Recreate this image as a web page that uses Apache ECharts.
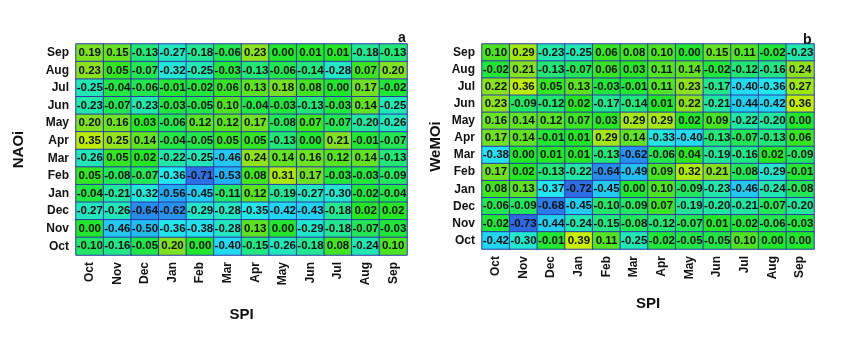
<!DOCTYPE html>
<html>
<head>
<meta charset="utf-8">
<script src="https://cdn.jsdelivr.net/npm/echarts@6/dist/echarts.min.js"></script>
<style>
  html, body { margin: 0; padding: 0; background: #fff; }
  #chart { width: 846px; height: 338px; }
</style>
</head>
<body>
<div id="chart"></div>
<script>
// months on both axes (bottom->top for y, left->right for x)
const months = ['Oct', 'Nov', 'Dec', 'Jan', 'Feb', 'Mar', 'Apr', 'May', 'Jun', 'Jul', 'Aug', 'Sep']

// rows as seen in the figure, top (Sep) to bottom (Oct); columns Oct..Sep
const naoiRows = [
  [0.19, 0.15, -0.13, -0.27, -0.18, -0.06, 0.23, 0.00, 0.01, 0.01, -0.18, -0.13],
  [0.23, 0.05, -0.07, -0.32, -0.25, -0.03, -0.13, -0.06, -0.14, -0.28, 0.07, 0.20],
  [-0.25, -0.04, -0.06, -0.01, -0.02, 0.06, 0.13, 0.18, 0.08, 0.00, 0.17, -0.02],
  [-0.23, -0.07, -0.23, -0.03, -0.05, 0.10, -0.04, -0.03, -0.13, -0.03, 0.14, -0.25],
  [0.20, 0.16, 0.03, -0.06, 0.12, 0.12, 0.17, -0.08, 0.07, -0.07, -0.20, -0.26],
  [0.35, 0.25, 0.14, -0.04, -0.05, 0.05, 0.05, -0.13, 0.00, 0.21, -0.01, -0.07],
  [-0.26, 0.05, 0.02, -0.22, -0.25, -0.46, 0.24, 0.14, 0.16, 0.12, 0.14, -0.13],
  [0.05, -0.08, -0.07, -0.36, -0.71, -0.53, 0.08, 0.31, 0.17, -0.03, -0.03, -0.09],
  [-0.04, -0.21, -0.32, -0.56, -0.45, -0.11, 0.12, -0.19, -0.27, -0.30, -0.02, -0.04],
  [-0.27, -0.26, -0.64, -0.62, -0.29, -0.28, -0.35, -0.42, -0.43, -0.18, 0.02, 0.02],
  [0.00, -0.46, -0.50, -0.36, -0.38, -0.28, 0.13, 0.00, -0.29, -0.18, -0.07, -0.03],
  [-0.10, -0.16, -0.05, 0.20, 0.00, -0.40, -0.15, -0.26, -0.18, 0.08, -0.24, 0.10]
]

const wemoiRows = [
  [0.10, 0.29, -0.23, -0.25, 0.06, 0.08, 0.10, 0.00, 0.15, 0.11, -0.02, -0.23],
  [-0.02, 0.21, -0.13, -0.07, 0.06, 0.03, 0.11, 0.14, -0.02, -0.12, -0.16, 0.24],
  [0.22, 0.36, 0.05, 0.13, -0.03, -0.01, 0.11, 0.23, -0.17, -0.40, -0.36, 0.27],
  [0.23, -0.09, -0.12, 0.02, -0.17, -0.14, 0.01, 0.22, -0.21, -0.44, -0.42, 0.36],
  [0.16, 0.14, 0.12, 0.07, 0.03, 0.29, 0.29, 0.02, 0.09, -0.22, -0.20, 0.00],
  [0.17, 0.14, -0.01, 0.01, 0.29, 0.14, -0.33, -0.40, -0.13, -0.07, -0.13, 0.06],
  [-0.38, 0.00, 0.01, 0.01, -0.13, -0.62, -0.06, 0.04, -0.19, -0.16, 0.02, -0.09],
  [0.17, 0.02, -0.13, -0.22, -0.64, -0.49, 0.09, 0.32, 0.21, -0.08, -0.29, -0.01],
  [0.08, 0.13, -0.37, -0.72, -0.45, 0.00, 0.10, -0.09, -0.23, -0.46, -0.24, -0.08],
  [-0.06, -0.09, -0.68, -0.45, -0.10, -0.09, 0.07, -0.19, -0.20, -0.21, -0.07, -0.20],
  [-0.02, -0.73, -0.44, -0.24, -0.15, -0.08, -0.12, -0.07, 0.01, -0.02, -0.06, -0.03],
  [-0.42, -0.30, -0.01, 0.39, 0.11, -0.25, -0.02, -0.05, -0.05, 0.10, 0.00, 0.00]
]

const colorStops = ['#3062e0', '#22a8f0', '#22e6f0', '#22e68e', '#22e622', '#84e022', '#cff000']

function toCells(rows) {
  const out = []
  rows.forEach((row, r) => {
    row.forEach((v, c) => out.push([c, 11 - r, v]))
  })
  return out
}

const font = 'Liberation Sans, Arial, sans-serif'

function xAxis(gridIndex, gap) {
  return {
    type: 'category', gridIndex, data: months,
    axisLine: { show: false }, axisTick: { show: false }, splitArea: { show: false },
    axisLabel: { rotate: 90, fontSize: 12, fontWeight: 'bold', color: '#111', fontFamily: font, margin: 7 },
    name: 'SPI', nameLocation: 'middle', nameGap: gap,
    nameTextStyle: { fontSize: 15, fontWeight: 'bold', color: '#111', fontFamily: font }
  }
}

function yAxis(gridIndex, name, gap) {
  return {
    type: 'category', gridIndex, data: months,
    axisLine: { show: false }, axisTick: { show: false },
    axisLabel: { fontSize: 12, fontWeight: 'bold', color: '#111', fontFamily: font, margin: 7 },
    name, nameLocation: 'middle', nameGap: gap, nameRotate: 90,
    nameTextStyle: { fontSize: 15, fontWeight: 'bold', color: '#111', fontFamily: font }
  }
}

function heat(i) {
  return {
    type: 'heatmap', xAxisIndex: i, yAxisIndex: i,
    data: toCells(i === 0 ? naoiRows : wemoiRows),
    itemStyle: { borderColor: '#2a3aa8', borderWidth: 1 },
    label: {
      show: true, fontSize: 11.5, fontWeight: 'bold', color: '#111',
      fontFamily: 'Liberation Sans Narrow, Liberation Sans, sans-serif',
      formatter: p => p.value[2].toFixed(2)
    },
    emphasis: { disabled: true }
  }
}

const myChart = echarts.init(document.getElementById('chart'))
myChart.setOption({
  animation: false,
  title: [
    { text: 'a', left: 393, top: 26, textStyle: { fontSize: 14, fontWeight: 'bold', color: '#111', fontFamily: font } },
    { text: 'b', left: 798, top: 28, textStyle: { fontSize: 14, fontWeight: 'bold', color: '#111', fontFamily: font } }
  ],
  grid: [
    { left: 76, top: 44, width: 331, height: 211 },
    { left: 482, top: 44, width: 332, height: 205 }
  ],
  xAxis: [xAxis(0, 52), xAxis(1, 47)],
  yAxis: [yAxis(0, 'NAOi', 50), yAxis(1, 'WeMOi', 39)],
  visualMap: {
    show: false, type: 'continuous', seriesIndex: [0, 1],
    min: -0.75, max: 0.4, dimension: 2,
    inRange: { color: colorStops }
  },
  series: [heat(0), heat(1)]
})
</script>
</body>
</html>
